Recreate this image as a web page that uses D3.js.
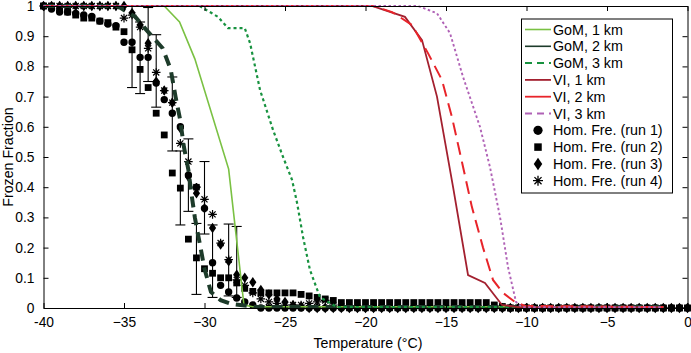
<!DOCTYPE html>
<html><head><meta charset="utf-8">
<script src="https://cdn.jsdelivr.net/npm/d3@7"></script>
<style>
html,body{margin:0;padding:0;background:#fff;}
svg{display:block;font-family:"Liberation Sans",Arial,Helvetica,sans-serif;}
</style></head>
<body>
<svg id="chart" width="691" height="353"></svg>
<script>
// ---------- data ----------
const xTickValues = [-40, -35, -30, -25, -20, -15, -10, -5, 0];
const xTickLabels = ["-40", "\u221235", "\u221230", "\u221225", "\u221220", "\u221215", "\u221210", "\u22125", "0"];
const yTickValues = [0, 0.1, 0.2, 0.3, 0.4, 0.5, 0.6, 0.7, 0.8, 0.9, 1];
const yTickLabels = ["0", "0.1", "0.2", "0.3", "0.4", "0.5", "0.6", "0.7", "0.8", "0.9", "1"];

// simulated curves
const gom1T = [-40, -32.5, -31.55, -30.6, -28.5, -27.55, -27, -1.5];
const gom1F = [1, 1, 0.947, 0.825, 0.46, 0.01, 0.004, 0.004];
const gom2T = [-40, -35.4, -35.1, -34.3, -33.6, -32.6, -32.1, -31.8, -31.5, -31.3, -31.0, -30.8, -30.6, -30.3, -30.0, -29.6, -29.0, -28.3, -26.7, -1.5];
const gom2F = [1, 1, 0.99, 0.964, 0.92, 0.86, 0.79, 0.70, 0.62, 0.54, 0.457, 0.374, 0.30, 0.215, 0.13, 0.053, 0.026, 0.013, 0.003, 0.003];
const gom3T = [-40, -30.3, -29.16, -28.54, -27.5, -27.17, -26.55, -25.74, -25.12, -24.56, -24.25, -23.88, -23.45, -22.83, -21.77, -1.5];
const gom3F = [1, 1, 0.964, 0.927, 0.927, 0.877, 0.722, 0.589, 0.5, 0.424, 0.348, 0.235, 0.126, 0.036, 0.003, 0.003];
const vi1T = [-40, -19.6, -17.55, -16.49, -15.56, -14.56, -13.63, -12.58, -11.52, -10.5, -1.5];
const vi1F = [1, 1, 0.964, 0.887, 0.70, 0.40, 0.109, 0.083, 0.01, 0.003, 0.003];
const vi2T = [-40, -19.5, -18.35, -17.11, -16.12, -15.25, -14.63, -13.94, -13.39, -12.7, -12.08, -11.46, -10.71, -10.09, -1.5];
const vi2F = [1, 1, 0.98, 0.937, 0.844, 0.755, 0.632, 0.467, 0.334, 0.2, 0.093, 0.05, 0.02, 0.007, 0.003];
const vi3T = [-40, -16.74, -15.56, -14.75, -13.94, -12.89, -12.27, -11.64, -11.15, -10.65, -10.3, -1.5];
const vi3F = [1, 1, 0.976, 0.91, 0.765, 0.60, 0.467, 0.30, 0.136, 0.02, 0.003, 0.003];

// homogeneous freezing runs (0.5 °C steps)
const temps = [-40, -39.5, -39, -38.5, -38, -37.5, -37, -36.5, -36, -35.5, -35, -34.5, -34, -33.5, -33, -32.5, -32, -31.5, -31, -30.5,
  -30, -29.5, -29, -28.5, -28, -27.5, -27, -26.5, -26, -25.5, -25, -24.5, -24, -23.5, -23, -22.5, -22, -21.5, -21, -20.5,
  -20, -19.5, -19, -18.5, -18, -17.5, -17, -16.5, -16, -15.5, -15, -14.5, -14, -13.5, -13, -12.5, -12, -11.5, -11, -10.5,
  -10, -9.5, -9, -8.5, -8, -7.5, -7, -6.5, -6, -5.5, -5, -4.5, -4, -3.5, -3, -2.5, -2, -1.5, -1, -0.5, 0];
const run1 = [1, 0.99, 0.98, 0.98, 0.975, 0.97, 0.965, 0.95, 0.94, 0.935, 0.88, 0.88, 0.83, 0.83, 0.745, 0.69, 0.645, 0.6, 0.44, 0.40,
  0.33, 0.15, 0.075, 0.053, 0.033, 0.02, 0.01, 0, 0, 0, 0, 0, 0, 0, 0, 0, 0, 0, 0, 0,
  0, 0, 0, 0, 0, 0, 0, 0, 0, 0, 0, 0, 0, 0, 0, 0, 0, 0, 0, 0,
  0, 0, 0, 0, 0, 0, 0, 0, 0, 0, 0, 0, 0, 0, 0, 0, 0, 0, 0, 0, 0];
const run2 = [1, 1, 0.99, 0.98, 0.97, 0.96, 0.96, 0.95, 0.945, 0.93, 0.915, 0.855, 0.79, 0.73, 0.645, 0.573, 0.447, 0.397, 0.228, 0.166,
  0.13, 0.115, 0.1, 0.1, 0.083, 0.065, 0.055, 0.05, 0.05, 0.05, 0.05, 0.05, 0.045, 0.04, 0.035, 0.03, 0.025, 0.018, 0.018, 0.018,
  0.018, 0.018, 0.018, 0.018, 0.018, 0.018, 0.018, 0.018, 0.018, 0.018, 0.018, 0.018, 0.018, 0.018, 0.018, 0.018, 0.01, 0.005, 0, 0,
  0, 0, 0, 0, 0, 0, 0, 0, 0, 0, 0, 0, 0, 0, 0, 0, 0, 0, 0, 0, 0];
const run3 = [1, 1, 1, 1, 1, 1, 1, 1, 1, 1, 1, 0.977, 0.937, 0.877, 0.75, 0.72, 0.68, 0.595, 0.435, 0.38,
  0.33, 0.265, 0.21, 0.155, 0.11, 0.1, 0.085, 0.06, 0.045, 0.03, 0.02, 0.01, 0.005, 0, 0, 0, 0, 0, 0, 0,
  0, 0, 0, 0, 0, 0, 0, 0, 0, 0, 0, 0, 0, 0, 0, 0, 0, 0, 0, 0,
  0, 0, 0, 0, 0, 0, 0, 0, 0, 0, 0, 0, 0, 0, 0, 0, 0, 0, 0, 0, 0];
const run4 = [1, 1, 1, 1, 1, 1, 1, 1, 1, 1, 0.96, 0.97, 0.93, 0.86, 0.78, 0.72, 0.68, 0.545, 0.485, 0.40,
  0.36, 0.31, 0.215, 0.16, 0.093, 0.075, 0.05, 0.03, 0.02, 0.015, 0.01, 0.01, 0.01, 0.015, 0.02, 0.025, 0.01, 0.005, 0, 0,
  0, 0, 0, 0, 0, 0, 0, 0, 0, 0, 0, 0, 0, 0, 0, 0, 0, 0, 0, 0,
  0, 0, 0, 0, 0, 0, 0, 0, 0, 0, 0, 0, 0, 0, 0, 0, 0, 0, 0, 0, 0];

// error bars
const errT  = [-34.5, -34, -33.5, -33, -32, -31.5, -31, -30.5, -30, -29.5, -28.5, -28];
const errLo = [0.73, 0.71, 0.75, 0.665, 0.52, 0.275, 0.32, 0.045, 0.245, 0.035, 0.04, 0.035];
const errHi = [1.0, 0.947, 0.995, 0.905, 0.765, 0.52, 0.56, 0.28, 0.485, 0.275, 0.278, 0.27];

const legendLabels = ["GoM, 1 km", "GoM, 2 km", "GoM, 3 km", "VI, 1 km", "VI, 2 km", "VI, 3 km",
  "Hom. Fre. (run 1)", "Hom. Fre. (run 2)", "Hom. Fre. (run 3)", "Hom. Fre. (run 4)"];

// ---------- drawing ----------
const svg = d3.select("#chart");
const L = 43.5, R = 687.5, T = 6, B = 308;
const x = d3.scaleLinear().domain([-40, 0]).range([L, R]);
const y = d3.scaleLinear().domain([0, 1]).range([B, T]);
const FS = 13.8;

// marker path generators
function circlePath(r) { return d3.symbol(d3.symbolCircle, Math.PI * r * r)(); }
function squarePath(s) { const h = s / 2; return `M${-h},${-h}H${h}V${h}H${-h}Z`; }
function diamondPath(w, h) { return `M0,${-h / 2}L${w / 2},0L0,${h / 2}L${-w / 2},0Z`; }
function asteriskPath(r) {
  const d = r * Math.SQRT1_2;
  return `M0,${-r}V${r}M${-r},0H${r}M${-d},${-d}L${d},${d}M${-d},${d}L${d},${-d}`;
}

const markerDefs = [
  { data: run1, path: circlePath(3.7), fill: "#000", stroke: "none" },
  { data: run2, path: squarePath(6.8), fill: "#000", stroke: "none" },
  { data: run3, path: diamondPath(7.2, 10.5), fill: "#000", stroke: "none" },
  { data: run4, path: asteriskPath(4.3), fill: "none", stroke: "#000" }
];
const legMarkers = [circlePath(4.6), squarePath(7.5), diamondPath(8.5, 12.5), asteriskPath(5)];

// markers
const mg = svg.append("g");
markerDefs.forEach(m => {
  mg.append("g").selectAll("path").data(temps).join("path")
    .attr("transform", (t, i) => `translate(${x(t)},${y(m.data[i])})`)
    .attr("d", m.path).attr("fill", m.fill).attr("stroke", m.stroke).attr("stroke-width", 1.2);
});

// error bars
const eg = svg.append("g").attr("stroke", "#000").attr("stroke-width", 1.1).attr("fill", "none");
errT.forEach((t, i) => {
  const cx = x(t), y1 = y(errLo[i]), y2 = y(errHi[i]);
  eg.append("line").attr("x1", cx).attr("x2", cx).attr("y1", y1).attr("y2", y2);
  eg.append("line").attr("x1", cx - 5).attr("x2", cx + 5).attr("y1", y1).attr("y2", y1);
  eg.append("line").attr("x1", cx - 5).attr("x2", cx + 5).attr("y1", y2).attr("y2", y2);
});

// lines
const lineGen = d3.line().x(d => x(d[0])).y(d => y(d[1]));
const series = [
  { t: gom1T, f: gom1F, color: "#7ac143", w: 1.6, dash: null, legDash: null, legW: 1.6 },
  { t: gom2T, f: gom2F, color: "#1d3b2a", w: 4, dash: "11,7", legDash: null, legW: 1.6 },
  { t: gom3T, f: gom3F, color: "#17923f", w: 2.2, dash: "3,3", legDash: "7,5", legW: 2 },
  { t: vi1T, f: vi1F, color: "#a3202f", w: 1.8, dash: null, legDash: null, legW: 1.8 },
  { t: vi2T, f: vi2F, color: "#e8242a", w: 2, dash: "13,7", legDash: null, legW: 1.8 },
  { t: vi3T, f: vi3F, color: "#b062b6", w: 1.9, dash: "2.5,2.5", legDash: "7,5", legW: 2 }
];
const lg = svg.append("g").attr("fill", "none");
series.forEach(s => {
  lg.append("path").datum(s.t.map((t, i) => [t, s.f[i]]))
    .attr("d", lineGen).attr("stroke", s.color).attr("stroke-width", s.w)
    .attr("stroke-dasharray", s.dash);
});

// axes (MATLAB style box with inward ticks)
const axG = svg.append("g");
axG.append("g").attr("transform", `translate(0,${B})`)
  .call(d3.axisBottom(x).tickValues(xTickValues).tickFormat((d, i) => xTickLabels[i]).tickSizeInner(-5).tickSizeOuter(0).tickPadding(9));
axG.append("g").attr("transform", `translate(0,${T})`)
  .call(d3.axisTop(x).tickValues(xTickValues).tickFormat("").tickSizeInner(-5).tickSizeOuter(0));
axG.append("g").attr("transform", `translate(${L},0)`)
  .call(d3.axisLeft(y).tickValues(yTickValues).tickFormat((d, i) => yTickLabels[i]).tickSizeInner(-5).tickSizeOuter(0).tickPadding(9));
axG.append("g").attr("transform", `translate(${R},0)`)
  .call(d3.axisRight(y).tickValues(yTickValues).tickFormat("").tickSizeInner(-5).tickSizeOuter(0));
axG.selectAll(".domain").attr("stroke", "#000").attr("stroke-width", 1);
axG.selectAll(".tick line").attr("stroke", "#000");
axG.selectAll("text").attr("font-size", FS).attr("fill", "#000").attr("font-family", "Liberation Sans, Arial, sans-serif");

// axis titles
svg.append("text").attr("x", 368).attr("y", 348).attr("text-anchor", "middle")
  .attr("font-size", 14.2).text("Temperature (\u00b0C)");
svg.append("text").attr("transform", `translate(13,${(T + B) / 2}) rotate(-90)`).attr("text-anchor", "middle")
  .attr("font-size", 14.2).text("Frozen Fraction");

// legend
const lx = 521.5, ly = 19, lw = 151, lh = 174, rowH = 16.8, row0 = 29.5;
const leg = svg.append("g");
leg.append("rect").attr("x", lx).attr("y", ly).attr("width", lw).attr("height", lh)
  .attr("fill", "#fff").attr("stroke", "#000").attr("stroke-width", 1);
legendLabels.forEach((lab, i) => {
  const cy = row0 + i * rowH;
  if (i < 6) {
    const s = series[i];
    leg.append("line").attr("x1", 525).attr("x2", 551).attr("y1", cy).attr("y2", cy)
      .attr("stroke", s.color).attr("stroke-width", s.legW).attr("stroke-dasharray", s.legDash);
  } else {
    const m = markerDefs[i - 6];
    leg.append("path").attr("transform", `translate(538,${cy})`).attr("d", legMarkers[i - 6])
      .attr("fill", m.fill).attr("stroke", m.stroke).attr("stroke-width", 1.3);
  }
  leg.append("text").attr("x", 553).attr("y", cy).attr("dy", "0.35em").attr("font-size", 14.3).text(lab);
});
</script>
</body></html>
